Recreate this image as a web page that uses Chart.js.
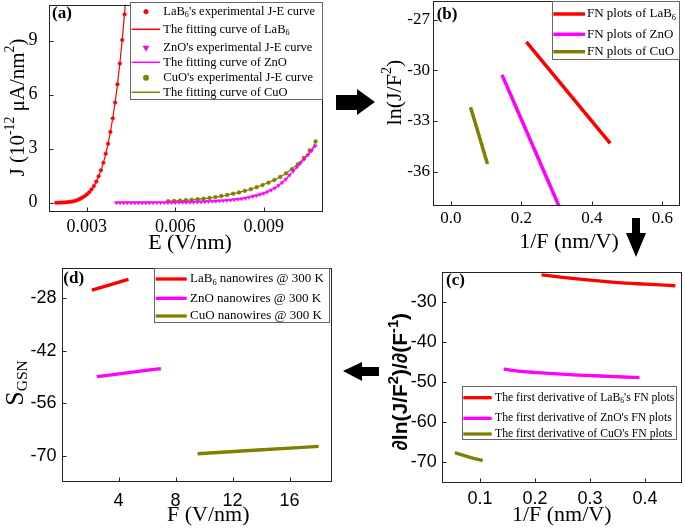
<!DOCTYPE html>
<html>
<head>
<meta charset="utf-8">
<script src="https://cdn.jsdelivr.net/npm/chart.js@4"></script>
<style>
  html, body { margin: 0; padding: 0; background: #fff; }
  #page { position: relative; width: 685px; height: 529px; overflow: hidden; }
  #page canvas { position: absolute; }
  #arrows { position: absolute; left: 0; top: 0; }
</style>
</head>
<body>
<div id="page">
  <canvas id="chartA" width="335" height="255" style="left:0px;top:0px"></canvas>
  <canvas id="chartB" width="305" height="255" style="left:380px;top:0px"></canvas>
  <canvas id="chartC" width="300" height="274" style="left:385px;top:255px"></canvas>
  <canvas id="chartD" width="340" height="274" style="left:0px;top:255px"></canvas>
  <svg id="arrows" width="685" height="529">
    <polygon points="336,95 357,95 357,89 375,102 357,115 357,110 336,110" fill="#000"/>
    <polygon points="632,218 640,218 640,233 646,233 636,257 626,233 632,233" fill="#000"/>
    <polygon points="379,367 362,367 362,362 343,371 362,381 362,376 379,376" fill="#000"/>
  </svg>
</div>
<script>
var SERIF = "'Liberation Serif', 'Times New Roman', serif";
var SANS = "'Liberation Sans', Arial, sans-serif";
var RED = '#ff0000', MAGENTA = '#ff00ff', OLIVE = '#808000';

// (a) J-E curves
const lab6E = [0.00196, 0.00204, 0.00212, 0.00220, 0.00228, 0.00236, 0.00244, 0.00252, 0.00260, 0.00268,
               0.00276, 0.00284, 0.00292, 0.00300, 0.00308, 0.00316, 0.00324, 0.00332, 0.00340, 0.00348,
               0.00356, 0.00364, 0.00372, 0.00380, 0.00388, 0.00396, 0.00404, 0.00412, 0.00420, 0.00428];
const lab6J = [0.00, 0.00, 0.01, 0.01, 0.02, 0.03, 0.05, 0.07, 0.10, 0.15,
               0.21, 0.28, 0.36, 0.46, 0.58, 0.74, 0.93, 1.17, 1.47, 1.80,
               2.22, 2.72, 3.27, 3.93, 4.68, 5.56, 6.57, 7.72, 9.03, 10.45];
const lab6FitE = [0.00196, 0.00212, 0.00228, 0.00244, 0.00260, 0.00276, 0.00292, 0.00308, 0.00324, 0.00340,
                  0.00356, 0.00372, 0.00388, 0.00404, 0.00420, 0.00436];
const lab6FitJ = [0.00, 0.01, 0.02, 0.04, 0.09, 0.17, 0.32, 0.55, 0.91, 1.45,
                  2.21, 3.27, 4.70, 6.58, 9.02, 12.09];

const znoE = [0.004000, 0.004125, 0.004250, 0.004375, 0.004500, 0.004625, 0.004750, 0.004875, 0.005000, 0.005125,
              0.005250, 0.005375, 0.005500, 0.005625, 0.005750, 0.005875, 0.006000, 0.006125, 0.006250, 0.006375,
              0.006500, 0.006625, 0.006750, 0.006875, 0.007000, 0.007125, 0.007250, 0.007375, 0.007500, 0.007625,
              0.007750, 0.007875, 0.008000, 0.008125, 0.008250, 0.008375, 0.008500, 0.008625, 0.008750, 0.008875,
              0.009000, 0.009125, 0.009250, 0.009375, 0.009500, 0.009625, 0.009750, 0.009875, 0.010000, 0.010125,
              0.010250, 0.010375, 0.010500, 0.010625, 0.010750];
const znoJ = [0.00, 0.00, 0.00, 0.00, 0.00, 0.00, 0.00, 0.00, 0.00, 0.00,
              0.00, 0.01, 0.01, 0.01, 0.01, 0.01, 0.01, 0.02, 0.02, 0.02,
              0.03, 0.03, 0.04, 0.05, 0.06, 0.07, 0.08, 0.09, 0.10, 0.12,
              0.13, 0.15, 0.17, 0.20, 0.22, 0.26, 0.30, 0.35, 0.40, 0.46,
              0.52, 0.60, 0.70, 0.81, 0.95, 1.12, 1.30, 1.52, 1.75, 1.98,
              2.20, 2.42, 2.65, 2.88, 3.15];
const znoFitE = [0.0040, 0.0050, 0.0060, 0.0065, 0.0070, 0.0075, 0.0080, 0.0085, 0.0090, 0.0095, 0.0100, 0.0105, 0.01075];
const znoFitJ = [0.00, 0.00, 0.01, 0.03, 0.06, 0.10, 0.17, 0.30, 0.52, 0.95, 1.75, 2.65, 3.15];

const cuoE = [0.00576, 0.00596, 0.00616, 0.00636, 0.00656, 0.00676, 0.00696, 0.00716, 0.00736, 0.00756,
              0.00776, 0.00796, 0.00816, 0.00836, 0.00856, 0.00876, 0.00896, 0.00916, 0.00936, 0.00956,
              0.00976, 0.00996, 0.01016, 0.01036, 0.01056, 0.01076];
const cuoJ = [0.08, 0.10, 0.12, 0.14, 0.16, 0.19, 0.22, 0.26, 0.31, 0.37,
              0.43, 0.50, 0.57, 0.66, 0.75, 0.86, 0.98, 1.11, 1.26, 1.43,
              1.63, 1.86, 2.14, 2.48, 2.90, 3.40];
const cuoFitE = [0.0057, 0.0062, 0.0067, 0.0072, 0.0077, 0.0082, 0.0087, 0.0092, 0.0097, 0.0102, 0.0106, 0.0108];
const cuoFitJ = [0.07, 0.12, 0.18, 0.27, 0.41, 0.59, 0.83, 1.15, 1.57, 2.21, 2.90, 3.45];

// (b) FN plots
const lab6FnX = [0.214, 0.333, 0.452];
const lab6FnY = [-28.32, -31.32, -34.32];
const znoFnX = [0.145, 0.225, 0.308];
const znoFnY = [-30.27, -34.11, -38.10];
const cuoFnX = [0.0557, 0.080, 0.1038];
const cuoFnY = [-32.18, -33.88, -35.55];

// (c) first derivative of FN plots
const lab6DerX = [0.212, 0.25, 0.30, 0.35, 0.40, 0.455];
const lab6DerY = [-23.3, -23.9, -24.6, -25.2, -25.6, -26.0];
const znoDerX = [0.143, 0.18, 0.22, 0.27, 0.32, 0.36, 0.39];
const znoDerY = [-46.8, -47.4, -47.8, -48.2, -48.5, -48.75, -48.9];
const cuoDerX = [0.0545, 0.07, 0.085, 0.105];
const cuoDerY = [-67.6, -68.3, -68.9, -69.6];

// (d) S_GSN against F
const lab6SX = [2.13, 3.4, 4.70];
const lab6SY = [-25.8, -24.4, -22.95];
const znoSX = [2.48, 4.7, 6.97];
const znoSY = [-48.84, -47.8, -46.71];
const cuoSX = [9.55, 13.8, 18.04];
const cuoSY = [-69.39, -68.4, -67.45];

// tick values and labels
const ticksAX = [0.003, 0.006, 0.009], labelsAX = ['0.003', '0.006', '0.009'];
const ticksAY = [0, 3, 6, 9], labelsAY = ['0', '3', '6', '9'];
const ticksBX = [0, 0.2, 0.4, 0.6], labelsBX = ['0.0', '0.2', '0.4', '0.6'];
const ticksBY = [-36, -33, -30, -27], labelsBY = ['-36', '-33', '-30', '-27'];
const ticksCX = [0.1, 0.2, 0.3, 0.4], labelsCX = ['0.1', '0.2', '0.3', '0.4'];
const ticksCY = [-70, -60, -50, -40, -30], labelsCY = ['-70', '-60', '-50', '-40', '-30'];
const ticksDX = [4, 8, 12, 16], labelsDX = ['4', '8', '12', '16'];
const ticksDY = [-70, -56, -42, -28], labelsDY = ['-70', '-56', '-42', '-28'];

function pts(xs, ys) {
    return xs.map(function(x, i) { return { x: x, y: ys[i] }; });
}

// text with _{sub} and ^{sup} parts
function parseRich(str) {
    var parts = [], re = /([_^])\{([^}]*)\}/g, last = 0, m;
    while ((m = re.exec(str)) !== null) {
        if (m.index > last) parts.push({ t: str.slice(last, m.index), k: '' });
        parts.push({ t: m[2], k: m[1] });
        last = re.lastIndex;
    }
    if (last < str.length) parts.push({ t: str.slice(last), k: '' });
    return parts;
}

function drawRich(ctx, str, x, y, f, align) {
    var parts = parseRich(str);
    var small = f.size * (f.scale || 0.65);
    var fontOf = function(p) { return (f.weight || 'normal') + ' ' + (p.k ? small : f.size) + 'px ' + f.family; };
    var total = 0;
    parts.forEach(function(p) { ctx.font = fontOf(p); p.w = ctx.measureText(p.t).width; total += p.w; });
    var cx = align === 'center' ? x - total / 2 : (align === 'right' ? x - total : x);
    ctx.textAlign = 'left';
    ctx.textBaseline = 'middle';
    parts.forEach(function(p) {
        ctx.font = fontOf(p);
        var dy = p.k === '_' ? f.size * 0.28 : (p.k === '^' ? -f.size * 0.36 : 0);
        ctx.fillText(p.t, cx, y + dy);
        cx += p.w;
    });
}

var panelPlugin = {
    id: 'panel',
    afterDraw: function(chart, args, opts) {
        var ctx = chart.ctx, ca = chart.chartArea;
        var ox = opts.origin[0], oy = opts.origin[1];
        ctx.save();

        // frame and inward ticks
        ctx.strokeStyle = '#222';
        ctx.lineWidth = 1;
        var l = Math.round(ca.left) + 0.5, t = Math.round(ca.top) + 0.5;
        var r = Math.round(ca.right) - 0.5, b = Math.round(ca.bottom) - 0.5;
        ctx.strokeRect(l, t, r - l, b - t);
        ctx.beginPath();
        chart.scales.x.ticks.forEach(function(tk) {
            var px = Math.round(chart.scales.x.getPixelForValue(tk.value)) + 0.5;
            ctx.moveTo(px, b); ctx.lineTo(px, b - 4);
        });
        chart.scales.y.ticks.forEach(function(tk) {
            var py = Math.round(chart.scales.y.getPixelForValue(tk.value)) + 0.5;
            ctx.moveTo(l, py); ctx.lineTo(l + 4, py);
        });
        ctx.stroke();

        // legend box
        var lg = opts.legend;
        ctx.fillStyle = '#fff';
        ctx.fillRect(lg.box[0] - ox, lg.box[1] - oy, lg.box[2] - lg.box[0], lg.box[3] - lg.box[1]);
        ctx.strokeStyle = '#666';
        ctx.strokeRect(Math.round(lg.box[0] - ox) + 0.5, Math.round(lg.box[1] - oy) + 0.5,
                       Math.round(lg.box[2] - lg.box[0]) - 1, Math.round(lg.box[3] - lg.box[1]) - 1);
        chart.data.datasets.forEach(function(ds, i) {
            var y = lg.rows[i] - oy;
            if (ds.showLine === false) {
                ctx.fillStyle = ds.backgroundColor;
                ctx.strokeStyle = ds.borderColor;
                Chart.helpers.drawPoint(ctx, { pointStyle: ds.pointStyle, radius: ds.pointRadius + 0.3,
                    rotation: ds.rotation || 0, borderWidth: 0.5 }, lg.mark - ox, y);
            } else {
                ctx.strokeStyle = ds.borderColor;
                ctx.lineWidth = lg.lineWidth;
                ctx.beginPath();
                ctx.moveTo(lg.line[0] - ox, y);
                ctx.lineTo(lg.line[1] - ox, y);
                ctx.stroke();
            }
            ctx.fillStyle = '#000';
            drawRich(ctx, ds.label, lg.text - ox, y, lg.font, 'left');
        });

        // panel letter and axis titles
        ctx.fillStyle = '#000';
        drawRich(ctx, opts.tag.text, opts.tag.x - ox, opts.tag.y - oy,
                 { size: 17, family: SERIF, weight: 'bold' }, 'left');
        drawRich(ctx, opts.xTitle.text, opts.xTitle.x - ox, opts.xTitle.y - oy, opts.xTitle.font, 'center');
        ctx.save();
        ctx.translate(opts.yTitle.x - ox, opts.yTitle.y - oy);
        ctx.rotate(-Math.PI / 2);
        drawRich(ctx, opts.yTitle.text, 0, 0, opts.yTitle.font, 'center');
        ctx.restore();

        ctx.restore();
    }
};

function axis(c) {
    return {
        type: 'linear',
        min: c.min,
        max: c.max,
        grid: { display: false, drawTicks: false },
        border: { display: false },
        afterFit: function(s) {
            // fixed axis size, and no extra room for the end labels
            if (s.isHorizontal()) s.height = c.size; else s.width = c.size;
            s.paddingTop = 0; s.paddingBottom = 0; s.paddingLeft = 0; s.paddingRight = 0;
        },
        afterBuildTicks: function(s) {
            s.ticks = c.ticks.map(function(v) { return { value: v }; });
        },
        ticks: {
            color: '#000',
            font: { family: c.family, size: c.fontSize },
            padding: c.pad,
            autoSkip: false,
            maxRotation: 0,
            callback: function(v, i) { return c.labels[i]; }
        }
    };
}

function makePanel(id, cfg) {
    return new Chart(document.getElementById(id), {
        type: 'line',
        data: { datasets: cfg.datasets },
        options: {
            responsive: false,
            animation: false,
            devicePixelRatio: 1,
            layout: { padding: { top: cfg.padTop, right: cfg.padRight, bottom: 0, left: 0 } },
            plugins: {
                legend: { display: false },
                tooltip: { enabled: false },
                panel: cfg.panel
            },
            scales: { x: axis(cfg.x), y: axis(cfg.y) }
        },
        plugins: [panelPlugin]
    });
}

function lineSet(label, xs, ys, color, width) {
    return { label: label, data: pts(xs, ys), borderColor: color, backgroundColor: color,
             borderWidth: width, pointRadius: 0, tension: 0.3, cubicInterpolationMode: 'monotone' };
}

function markSet(label, xs, ys, color, style, radius, rotation) {
    return { label: label, data: pts(xs, ys), showLine: false, borderColor: color, backgroundColor: color,
             pointStyle: style, pointRadius: radius, rotation: rotation || 0, pointBorderWidth: 0.5 };
}

makePanel('chartA', {
    padTop: 1.5, padRight: 12.3,
    x: { min: 0.0017, max: 0.011, size: 43.3, ticks: ticksAX, labels: labelsAX, family: SERIF, fontSize: 18, pad: 4.7 },
    y: { min: -0.5, max: 11, size: 48.5, ticks: ticksAY, labels: labelsAY, family: SERIF, fontSize: 18, pad: 11 },
    datasets: [
        markSet("LaB_{6}'s experimental J-E curve", lab6E, lab6J, RED, 'circle', 1.8),
        lineSet('The fitting curve of LaB_{6}', lab6FitE, lab6FitJ, RED, 1.2),
        markSet("ZnO's experimental J-E curve", znoE, znoJ, MAGENTA, 'triangle', 2.2, 180),
        lineSet('The fitting curve of ZnO', znoFitE, znoFitJ, MAGENTA, 1.2),
        markSet("CuO's experimental J-E curve", cuoE, cuoJ, OLIVE, 'circle', 1.9),
        lineSet('The fitting curve of CuO', cuoFitE, cuoFitJ, OLIVE, 1.2)
    ],
    panel: {
        origin: [0, 0],
        tag: { text: '(a)', x: 52, y: 14 },
        xTitle: { text: 'E (V/nm)', x: 190, y: 243.5, font: { size: 22, family: SERIF } },
        yTitle: { text: 'J (10^{-12} \u03bcA/nm^{2})', x: 18.3, y: 107.5, font: { size: 21, family: SERIF } },
        legend: { box: [130, 1.5, 322.7, 99.3], rows: [11.7, 29.3, 47.7, 62.3, 77.7, 92.3],
                  line: [131.7, 160], mark: 146, text: 163.3, lineWidth: 1.5,
                  font: { size: 12.5, family: SERIF } }
    }
});

makePanel('chartB', {
    padTop: 1, padRight: 5,
    x: { min: -0.05, max: 0.65, size: 49.5, ticks: ticksBX, labels: labelsBX, family: SERIF, fontSize: 17, pad: 3.3 },
    y: { min: -38, max: -25.9, size: 53.3, ticks: ticksBY, labels: labelsBY, family: SERIF, fontSize: 17, pad: 3.3 },
    datasets: [
        lineSet('FN plots of LaB_{6}', lab6FnX, lab6FnY, RED, 3.5),
        lineSet('FN plots of ZnO', znoFnX, znoFnY, MAGENTA, 3.5),
        lineSet('FN plots of CuO', cuoFnX, cuoFnY, OLIVE, 3.5)
    ],
    panel: {
        origin: [380, 0],
        tag: { text: '(b)', x: 436.7, y: 15 },
        xTitle: { text: '1/F (nm/V)', x: 569, y: 242, font: { size: 22, family: SERIF } },
        yTitle: { text: 'ln(J/F^{2})', x: 395, y: 92.5, font: { size: 22, family: SERIF } },
        legend: { box: [551.7, 1, 680, 60], rows: [14, 34.3, 51.7],
                  line: [553.3, 585], text: 587, lineWidth: 3.5,
                  font: { size: 13, family: SERIF } }
    }
});

makePanel('chartC', {
    padTop: 16.7, padRight: 2.7,
    x: { min: 0.0304, max: 0.4678, size: 46.3, ticks: ticksCX, labels: labelsCX, family: SANS, fontSize: 18, pad: 5.5 },
    y: { min: -75.1, max: -22.5, size: 56.7, ticks: ticksCY, labels: labelsCY, family: SANS, fontSize: 18, pad: 5 },
    datasets: [
        lineSet("The first derivative of LaB_{6}'s FN plots", lab6DerX, lab6DerY, RED, 3.3),
        lineSet("The first derivative of ZnO's FN plots", znoDerX, znoDerY, MAGENTA, 3.3),
        lineSet("The first derivative of CuO's FN plots", cuoDerX, cuoDerY, OLIVE, 3.3)
    ],
    panel: {
        origin: [385, 255],
        tag: { text: '(c)', x: 446, y: 281 },
        xTitle: { text: '1/F (nm/V)', x: 561.7, y: 515, font: { size: 22, family: SERIF } },
        yTitle: { text: '\u2202ln(J/F^{2})/\u2202(F^{-1})', x: 401.7, y: 381.7,
                  font: { size: 21, family: SANS, weight: 'bold', scale: 0.7 } },
        legend: { box: [462.3, 386, 677.3, 440], rows: [397.7, 418.3, 434],
                  line: [463.3, 491.7], text: 495, lineWidth: 3.3,
                  font: { size: 11.7, family: SERIF } }
    }
});

makePanel('chartD', {
    padTop: 13.3, padRight: 7.7,
    x: { min: 0, max: 19, size: 46.7, ticks: ticksDX, labels: labelsDX, family: SANS, fontSize: 18, pad: 7.5 },
    y: { min: -77, max: -20, size: 61.5, ticks: ticksDY, labels: labelsDY, family: SANS, fontSize: 18, pad: 5 },
    datasets: [
        lineSet('LaB_{6} nanowires @ 300 K', lab6SX, lab6SY, RED, 3.3),
        lineSet('ZnO nanowires @ 300 K', znoSX, znoSY, MAGENTA, 3.3),
        lineSet('CuO nanowires @ 300 K', cuoSX, cuoSY, OLIVE, 3.3)
    ],
    panel: {
        origin: [0, 255],
        tag: { text: '(d)', x: 63.3, y: 278.3 },
        xTitle: { text: 'F (V/nm)', x: 208.3, y: 515, font: { size: 22, family: SERIF } },
        yTitle: { text: 'S_{GSN}', x: 16, y: 383, font: { size: 26, family: SERIF, scale: 0.6 } },
        legend: { box: [154.3, 268.3, 330, 323.3], rows: [279, 298.3, 316],
                  line: [155.7, 186.7], text: 190, lineWidth: 3.3,
                  font: { size: 13, family: SERIF } }
    }
});
</script>
</body>
</html>
